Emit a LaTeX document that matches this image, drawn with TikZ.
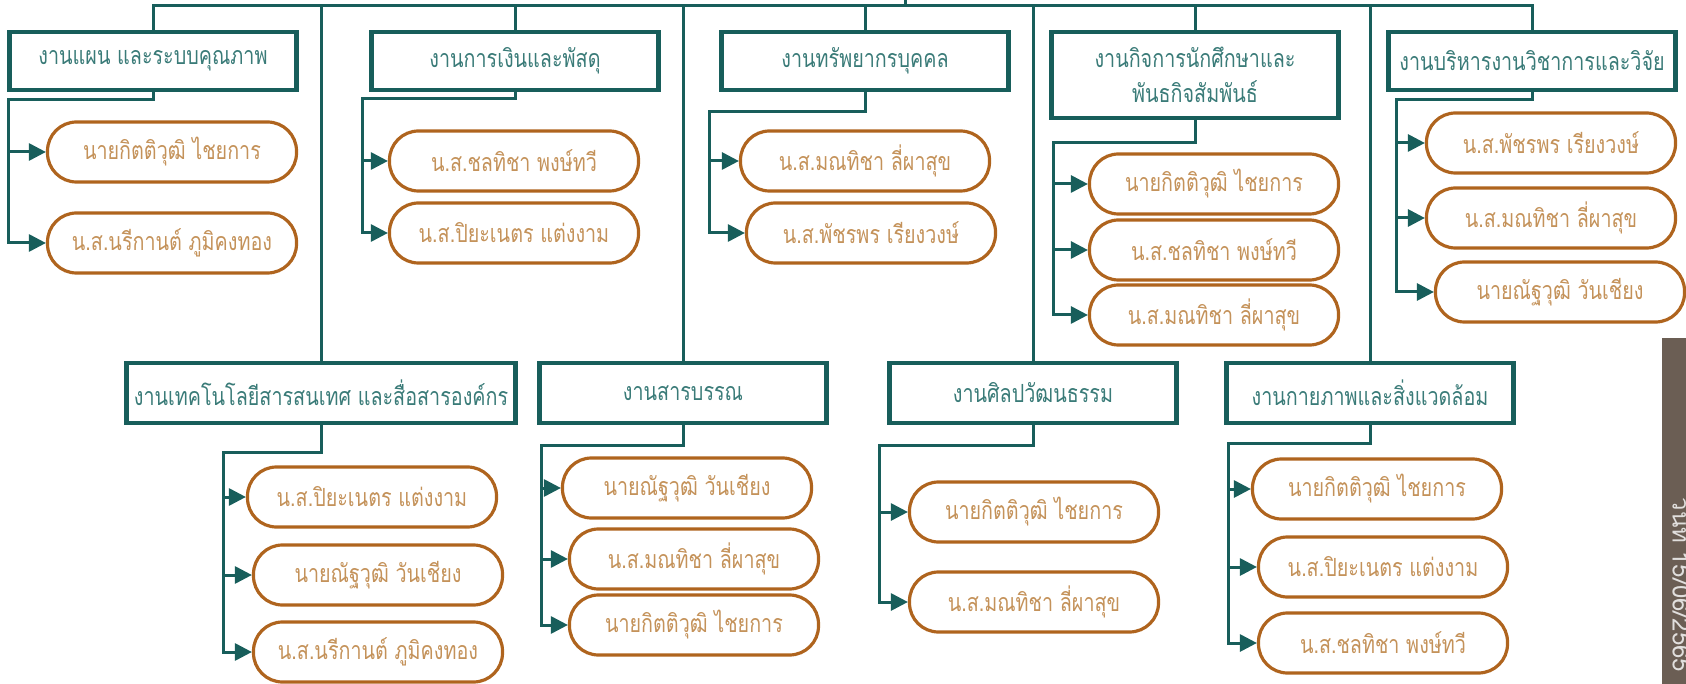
\documentclass[tikz,border=0pt]{standalone}
\usepackage{fontspec}
\newfontfamily\thaifont[Script=Thai,FakeStretch=0.79]{Loma}
\newfontfamily\tabfont[Script=Thai]{Loma}
\usetikzlibrary{arrows.meta}
\definecolor{tealline}{HTML}{185E5B}
\definecolor{tealtext}{HTML}{3A7B78}
\definecolor{pillline}{HTML}{AF641E}
\definecolor{pilltext}{HTML}{C4925A}
\definecolor{tabfill}{HTML}{6B5E54}

\begin{document}
\begin{tikzpicture}[x=1pt,y=-1pt,
    >={Triangle[length=17pt,width=17pt]},
    unit/.style={draw=tealline,line width=4.5pt,text=tealtext,minimum width=287pt,
        minimum height=58pt,inner sep=0pt,align=center,
        font=\thaifont\fontsize{25}{35}\selectfont},
    staff/.style={draw=pillline,line width=3.2pt,text=pilltext,rounded corners=29pt,
        minimum width=249pt,minimum height=60pt,inner sep=0pt,
        font=\thaifont\fontsize{25}{25}\selectfont},
    link/.style={draw=tealline,line width=3pt}]
\useasboundingbox (0,0) rectangle (1686,684);
\clip (0,0) rectangle (1686,684);

\node[unit] (plan) at (153,61) {งานแผน และระบบคุณภาพ};
\node[unit] (finance) at (515,61) {งานการเงินและพัสดุ};
\node[unit] (hr) at (865,61) {งานทรัพยากรบุคคล};
\node[unit,minimum height=86pt] (student) at (1195,75) {งานกิจการนักศึกษาและ\\พันธกิจสัมพันธ์};
\node[unit] (academic) at (1532,61) {งานบริหารงานวิชาการและวิจัย};
\node[unit,minimum width=389pt,minimum height=60pt] (ict) at (321,393) {งานเทคโนโลยีสารสนเทศ และสื่อสารองค์กร};
\node[unit,minimum height=60pt] (docs) at (683,393) {งานสารบรรณ};
\node[unit,minimum height=60pt] (art) at (1033,393) {งานศิลปวัฒนธรรม};
\node[unit,minimum height=60pt] (env) at (1370,393) {งานกายภาพและสิ่งแวดล้อม};

\node[staff] (plan1) at (172,152) {นายกิตติวุฒิ ไชยการ};
\node[staff] (plan2) at (172,243) {น.ส.นรีกานต์ ภูมิคงทอง};
\node[staff] (fin1) at (514,161) {น.ส.ชลทิชา พงษ์ทวี};
\node[staff] (fin2) at (514,233) {น.ส.ปิยะเนตร แต่งงาม};
\node[staff] (hr1) at (865,161) {น.ส.มณทิชา ลี่ผาสุข};
\node[staff] (hr2) at (871,233) {น.ส.พัชรพร เรียงวงษ์};
\node[staff] (stu1) at (1214,184) {นายกิตติวุฒิ ไชยการ};
\node[staff] (stu2) at (1214,250) {น.ส.ชลทิชา พงษ์ทวี};
\node[staff] (stu3) at (1214,315) {น.ส.มณทิชา ลี่ผาสุข};
\node[staff] (aca1) at (1551,143) {น.ส.พัชรพร เรียงวงษ์};
\node[staff] (aca2) at (1551,218) {น.ส.มณทิชา ลี่ผาสุข};
\node[staff] (aca3) at (1560,292) {นายณัฐวุฒิ วันเชียง};
\node[staff] (ict1) at (372,497) {น.ส.ปิยะเนตร แต่งงาม};
\node[staff] (ict2) at (378,575) {นายณัฐวุฒิ วันเชียง};
\node[staff] (ict3) at (378,652) {น.ส.นรีกานต์ ภูมิคงทอง};
\node[staff] (doc1) at (687,488) {นายณัฐวุฒิ วันเชียง};
\node[staff] (doc2) at (694,559) {น.ส.มณทิชา ลี่ผาสุข};
\node[staff] (doc3) at (694,625) {นายกิตติวุฒิ ไชยการ};
\node[staff] (art1) at (1034,512) {นายกิตติวุฒิ ไชยการ};
\node[staff] (art2) at (1034,602) {น.ส.มณทิชา ลี่ผาสุข};
\node[staff] (env1) at (1377,489) {นายกิตติวุฒิ ไชยการ};
\node[staff] (env2) at (1383,567) {น.ส.ปิยะเนตร แต่งงาม};
\node[staff] (env3) at (1383,643) {น.ส.ชลทิชา พงษ์ทวี};

\coordinate (head) at (905,0);
\coordinate (bus) at (905,6);
\draw[link] (head) -- (bus);
\draw[link] (plan.north) -- (plan.north |- bus) -- (academic.north |- bus) -- (academic.north);
\draw[link] (finance.north) -- (finance.north |- bus);
\draw[link] (hr.north) -- (hr.north |- bus);
\draw[link] (student.north) -- (student.north |- bus);
\draw[link] (ict.north) -- (ict.north |- bus);
\draw[link] (docs.north) -- (docs.north |- bus);
\draw[link] (art.north) -- (art.north |- bus);
\draw[link] (env.north) -- (env.north |- bus);

\coordinate (planL) at (8,100);
\draw[link,->] (plan.south) |- (planL) |- (plan2.west);
\draw[link,->] (planL |- plan1.west) -- (plan1.west);
\coordinate (finL) at (362,99);
\draw[link,->] (finance.south) |- (finL) |- (fin2.west);
\draw[link,->] (finL |- fin1.west) -- (fin1.west);
\coordinate (hrL) at (709,112);
\draw[link,->] (hr.south) |- (hrL) |- (hr2.west);
\draw[link,->] (hrL |- hr1.west) -- (hr1.west);
\coordinate (stuL) at (1053,143);
\draw[link,->] (student.south) |- (stuL) |- (stu3.west);
\draw[link,->] (stuL |- stu1.west) -- (stu1.west);
\draw[link,->] (stuL |- stu2.west) -- (stu2.west);
\coordinate (acaL) at (1396,100);
\draw[link,->] (academic.south) |- (acaL) |- (aca3.west);
\draw[link,->] (acaL |- aca1.west) -- (aca1.west);
\draw[link,->] (acaL |- aca2.west) -- (aca2.west);
\coordinate (ictL) at (223,452);
\draw[link,->] (ict.south) |- (ictL) |- (ict3.west);
\draw[link,->] (ictL |- ict1.west) -- (ict1.west);
\draw[link,->] (ictL |- ict2.west) -- (ict2.west);
\coordinate (docL) at (541,445);
\draw[link,->] (docs.south) |- (docL) |- (doc3.west);
\draw[link,->] (docL |- doc1.west) -- (doc1.west);
\draw[link,->] (docL |- doc2.west) -- (doc2.west);
\coordinate (artL) at (879,445);
\draw[link,->] (art.south) |- (artL) |- (art2.west);
\draw[link,->] (artL |- art1.west) -- (art1.west);
\coordinate (envL) at (1228,443);
\draw[link,->] (env.south) |- (envL) |- (env3.west);
\draw[link,->] (envL |- env1.west) -- (env1.west);
\draw[link,->] (envL |- env2.west) -- (env2.west);

\fill[tabfill] (1662,338) rectangle (1700,690);
\node[text=white!80!tabfill,rotate=-90,font=\tabfont\fontsize{24}{24}\selectfont] (date) at (1685,585) {วันที่ 15/06/2565};
\end{tikzpicture}
\end{document}
